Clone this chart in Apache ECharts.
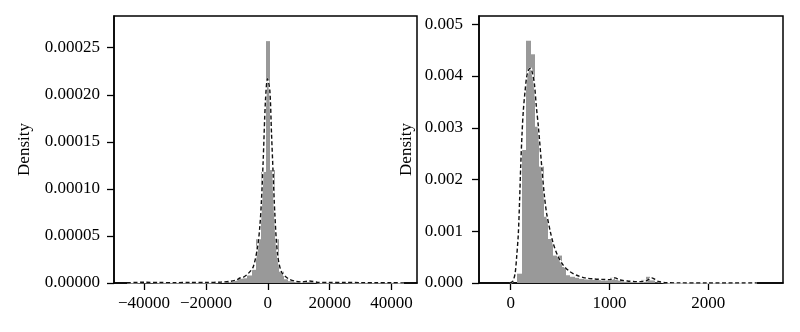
<!DOCTYPE html>
<html><head><meta charset="utf-8">
<script src="https://cdn.jsdelivr.net/npm/echarts@6/dist/echarts.min.js"></script>
<style>html,body{margin:0;padding:0;background:#fff}#c{width:800px;height:332px}</style>
</head><body><div id="c"></div>
<script>
// ---- Data: left panel (difference) ----
const leftEdges = [-12580,-11100,-9620,-8140,-6660,-5180,-3700,-2220,-740,740,2220,3700,5180,6660,8140,9620,11100,12580,14060,15540];
const leftDensity = [0.000001,0.000003,0.000005,0.000005,0.000008,0.000014,0.0000465,0.000118,0.000257,0.00012,0.0000465,0.000012,0.000004,0.000002,0.0000012,0.000001,0.0000008,0.000002,0.000001];
const leftKdeX = [-45500,-40000,-35000,-30000,-25000,-20000,-15000,-12000,-10000,-9000,-8000,-6350,-4730,-3320,-2580,-2050,-1500,-760,-100,640,1190,1720,2260,3130,4420,6580,9000,11000,13500,16000,20000,25000,30000,35000,40000,44000];
const leftKdeY = [0.0000003,0.0000008,0.0000005,0.0000004,0.0000006,0.0000005,0.000001,0.0000018,0.0000035,0.0000053,0.000006,0.00001,0.000017,0.000038,0.00006,0.000088,0.00013,0.000194,0.000217,0.000205,0.000159,0.000116,0.000074,0.000031,0.0000117,0.0000047,0.0000018,0.0000012,0.0000022,0.0000008,0.0000005,0.0000007,0.0000004,0.0000003,0.0000003,0.0000001];
const leftXTicks = [-40000,-20000,0,20000,40000];
const leftYTicks = [0,0.00005,0.0001,0.00015,0.0002,0.00025];

// ---- Data: right panel ----
const rightEdges = [67,112,157,201,246,291,336,381,425,470,515,560,605,649,694,739,784,829,873,918,963,1008,1053,1097,1142,1187,1232,1277,1321,1366,1411,1456,1501];
const rightDensity = [0.00018,0.00257,0.00468,0.00442,0.00302,0.00225,0.00128,0.00085,0.00053,0.00053,0.00031,0.00015,0.00012,0.0001,0.00008,0.00007,0.00007,0.00006,0.00006,0.00005,0.00006,0.0001,0.00006,0.00004,0.00003,0.00003,0.00002,0.00003,0.00006,0.00012,0.00005,0.00001];
const rightKdeX = [-7,20,44,60,77,90,101,115,128,145,162,182,202,220,239,260,280,314,340,364,400,431,480,533,600,668,750,836,920,1005,1056,1100,1180,1250,1309,1380,1427,1460,1494,1579,1700,2000,2490];
const rightKdeY = [0,0.00003,0.00018,0.0005,0.00095,0.0016,0.00225,0.0029,0.00334,0.0037,0.00399,0.00412,0.00415,0.00405,0.00386,0.0034,0.00302,0.00225,0.0017,0.00134,0.001,0.00076,0.00051,0.00034,0.00022,0.00015,0.0001,0.00008,0.00007,0.000065,0.0001,0.00006,0.00004,0.00003,0.000026,0.00005,0.0001,0.00007,0.00003,0.000006,0.000002,0.000001,0];
const rightXTicks = [0,1000,2000];
const rightYTicks = [0,0.001,0.002,0.003,0.004,0.005];

const yName = 'Density';

function bins(edges, dens){ return dens.map((v,i)=>[edges[i], edges[i+1], v]); }
function pairs(xs, ys){ return xs.map((x,i)=>[x, ys[i]]); }
const FONT = 'Liberation Serif';
const txt = {color:'#000', fontFamily:FONT, fontSize:17};

function xAxisCfg(gi, min, max, ticks){
  return {type:'value', gridIndex:gi, min:min, max:max, splitLine:{show:false},
    axisLine:{show:true, onZero:false, lineStyle:{color:'#000', width:1.5}},
    axisTick:{show:true, length:7, lineStyle:{color:'#000', width:1.3}, customValues:ticks},
    axisLabel:Object.assign({margin:12, customValues:ticks, formatter:v=>String(v).replace('-','\u2212')}, txt)};
}
function yAxisCfg(gi, max, ticks, dec, gap, margin){
  return {type:'value', gridIndex:gi, min:0, max:max, splitLine:{show:false},
    name:yName, nameLocation:'middle', nameGap:gap, nameTextStyle:txt,
    axisLine:{show:true, onZero:false, lineStyle:{color:'#000', width:1.5}},
    axisTick:{show:true, length:7, lineStyle:{color:'#000', width:1.3}, customValues:ticks},
    axisLabel:Object.assign({margin:margin, customValues:ticks, formatter:v=>v.toFixed(dec)}, txt)};
}
function histSeries(i, data){
  return {type:'custom', xAxisIndex:i, yAxisIndex:i, data:data, z:1,
    encode:{x:[0,1], y:2},
    renderItem:function(params, api){
      const p0 = api.coord([api.value(0), api.value(2)]);
      const p1 = api.coord([api.value(1), 0]);
      const x0 = Math.round(p0[0]), x1 = Math.round(p1[0]);
      return {type:'rect', shape:{x:x0, y:p0[1], width:x1-x0, height:p1[1]-p0[1]},
        style:{fill:'#999999', stroke:null, lineWidth:0}};
    }};
}
function kdeSeries(i, data){
  return [
    {type:'line', xAxisIndex:i, yAxisIndex:i, data:data, symbol:'none', smooth:0.3, z:2,
      lineStyle:{color:'#fff', width:1.8}},
    {type:'line', xAxisIndex:i, yAxisIndex:i, data:data, symbol:'none', smooth:0.3, z:3,
      lineStyle:{color:'#111', width:1.4, type:[4,2.5]}}
  ];
}

const chart = echarts.init(document.getElementById('c'), null, {renderer:'canvas'});
chart.setOption({
  animation:false,
  grid:[
    {left:114, top:16, width:303, height:267, show:true, borderColor:'#000', borderWidth:1.5},
    {left:479, top:16, width:304, height:267, show:true, borderColor:'#000', borderWidth:1.5}
  ],
  xAxis:[ xAxisCfg(0, -49700, 48200, leftXTicks), xAxisCfg(1, -321, 2756, rightXTicks) ],
  yAxis:[ yAxisCfg(0, 0.0002837, leftYTicks, 5, 81, 14), yAxisCfg(1, 0.00516, rightYTicks, 3, 64, 16) ],
  series:[
    histSeries(0, bins(leftEdges, leftDensity)),
    ...kdeSeries(0, pairs(leftKdeX, leftKdeY)),
    histSeries(1, bins(rightEdges, rightDensity)),
    ...kdeSeries(1, pairs(rightKdeX, rightKdeY))
  ]
});
</script></body></html>
